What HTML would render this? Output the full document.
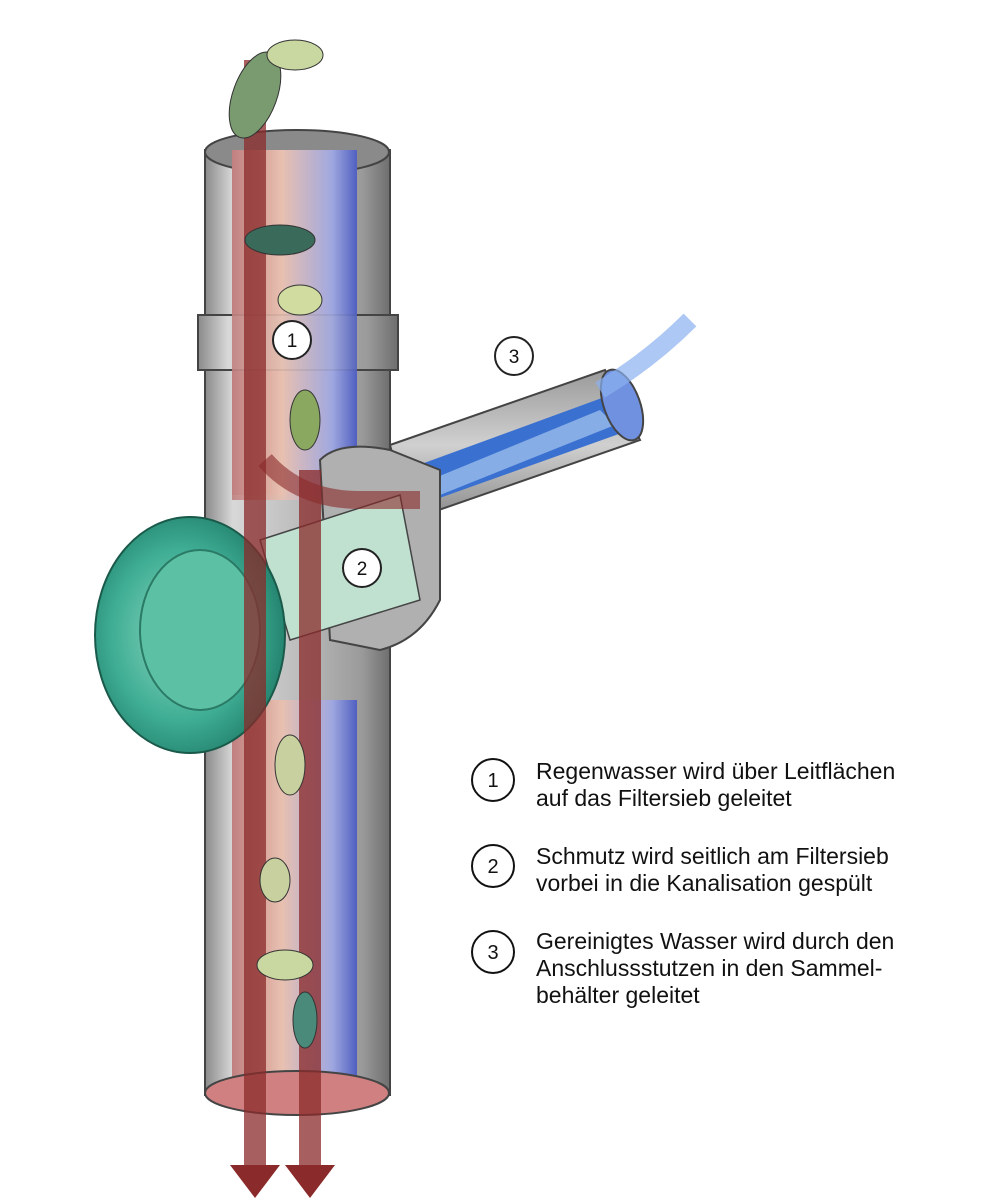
<!DOCTYPE html>
<html><head><meta charset="utf-8"><style>
html,body{margin:0;padding:0;background:#fff;width:1000px;height:1200px;overflow:hidden}
svg{display:block}
text{font-family:"Liberation Sans",sans-serif}
</style></head><body>
<svg width="1000" height="1200" viewBox="0 0 1000 1200">
<defs>
<linearGradient id="pipe" x1="0" x2="1"><stop offset="0" stop-color="#8a8a8a"/><stop offset=".15" stop-color="#d8d8d8"/><stop offset=".5" stop-color="#bdbdbd"/><stop offset=".85" stop-color="#9a9a9a"/><stop offset="1" stop-color="#6e6e6e"/></linearGradient>
<linearGradient id="inner" x1="0" x2="1"><stop offset="0" stop-color="#c08080"/><stop offset=".4" stop-color="#e8c0b0"/><stop offset=".8" stop-color="#a0a8e0"/><stop offset="1" stop-color="#5060c0"/></linearGradient>
<linearGradient id="side" x1="0" y1="1" x2="0" y2="0"><stop offset="0" stop-color="#8a8a8a"/><stop offset=".5" stop-color="#d0d0d0"/><stop offset="1" stop-color="#9a9a9a"/></linearGradient>
<radialGradient id="green" cx=".45" cy=".5" r=".6"><stop offset="0" stop-color="#8fd8c0"/><stop offset=".6" stop-color="#3fae94"/><stop offset="1" stop-color="#1e7a66"/></radialGradient>
</defs>
<rect x="205" y="150" width="185" height="945" fill="url(#pipe)" stroke="#444" stroke-width="2"/>
<ellipse cx="297" cy="152" rx="92" ry="22" fill="#8a8a8a" stroke="#444" stroke-width="2"/>
<rect x="232" y="150" width="125" height="345" fill="url(#inner)"/>
<rect x="198" y="315" width="200" height="55" fill="url(#pipe)" stroke="#444" stroke-width="2"/>
<rect x="232" y="300" width="125" height="200" fill="url(#inner)" opacity=".9"/>
<polygon points="390,445 605,370 640,440 410,520" fill="url(#side)" stroke="#444" stroke-width="2"/>
<polygon points="405,470 610,395 630,430 420,505" fill="#3a70d0"/>
<polygon points="430,480 600,410 615,425 440,495" fill="#a8c8f0" opacity=".7"/>
<ellipse cx="622" cy="405" rx="18" ry="37" transform="rotate(-20 622 405)" fill="#7090e0" stroke="#444" stroke-width="2"/>
<path d="M600 390 Q650 360 690 320" stroke="#8ab0f0" stroke-width="18" fill="none" opacity=".7"/>
<path d="M320 460 Q340 440 390 450 L440 470 L440 600 Q420 640 380 650 L330 640 Z" fill="#b0b0b0" stroke="#444" stroke-width="2"/>
<polygon points="260,540 400,495 420,600 290,640" fill="#c0e0d0" stroke="#444" stroke-width="1.5"/>
<rect x="232" y="700" width="125" height="380" fill="url(#inner)"/>
<ellipse cx="297" cy="1093" rx="92" ry="22" fill="#d08080" stroke="#444" stroke-width="2"/>
<ellipse cx="190" cy="635" rx="95" ry="118" fill="url(#green)" stroke="#1a5a4a" stroke-width="2"/>
<ellipse cx="200" cy="630" rx="60" ry="80" fill="#5cc0a4" stroke="#2a7a66" stroke-width="2"/>
<path d="M255 60 L255 1170" stroke="#8a2a2a" stroke-width="22" opacity=".75"/>
<polygon points="230,1165 280,1165 255,1198" fill="#8a2a2a"/>
<path d="M310 470 L310 1170" stroke="#8a2a2a" stroke-width="22" opacity=".75"/>
<polygon points="285,1165 335,1165 310,1198" fill="#8a2a2a"/>
<path d="M265 460 Q300 500 360 500 L420 500" stroke="#8a2a2a" stroke-width="18" fill="none" opacity=".6"/>
<ellipse cx="255" cy="95" rx="22" ry="45" fill="#7a9a70" transform="rotate(20 255 95)" stroke="#333"/>
<ellipse cx="295" cy="55" rx="28" ry="15" fill="#c8d8a0" stroke="#333"/>
<ellipse cx="280" cy="240" rx="35" ry="15" fill="#3a6a5a" stroke="#333"/>
<ellipse cx="300" cy="300" rx="22" ry="15" fill="#d0dca0" stroke="#333"/>
<ellipse cx="305" cy="420" rx="15" ry="30" fill="#8aa860" stroke="#333"/>
<ellipse cx="290" cy="765" rx="15" ry="30" fill="#c8d0a0" stroke="#333"/>
<ellipse cx="275" cy="880" rx="15" ry="22" fill="#c8d0a0" stroke="#333"/>
<ellipse cx="285" cy="965" rx="28" ry="15" fill="#c8d8a0" stroke="#333"/>
<ellipse cx="305" cy="1020" rx="12" ry="28" fill="#4a8a7a" stroke="#333"/>
<g fill="#fff" stroke="#222" stroke-width="2"><circle cx="292" cy="340" r="19"/><circle cx="514" cy="356" r="19"/><circle cx="362" cy="568" r="19"/></g>
<g font-size="19" text-anchor="middle" fill="#111"><text x="292" y="347">1</text><text x="514" y="363">3</text><text x="362" y="575">2</text></g>
<g fill="#fff" stroke="#111" stroke-width="2"><circle cx="493" cy="780" r="21"/><circle cx="493" cy="866" r="21"/><circle cx="493" cy="952" r="21"/></g>
<g font-size="20" text-anchor="middle" fill="#111"><text x="493" y="787">1</text><text x="493" y="873">2</text><text x="493" y="959">3</text></g>
<g font-size="23" fill="#111" textLength="0">
<text x="536" y="779">Regenwasser wird über Leitflächen</text>
<text x="536" y="806">auf das Filtersieb geleitet</text>
<text x="536" y="864">Schmutz wird seitlich am Filtersieb</text>
<text x="536" y="891">vorbei in die Kanalisation gespült</text>
<text x="536" y="949">Gereinigtes Wasser wird durch den</text>
<text x="536" y="976">Anschlussstutzen in den Sammel-</text>
<text x="536" y="1003">behälter geleitet</text>
</g>
</svg>
</body></html>
